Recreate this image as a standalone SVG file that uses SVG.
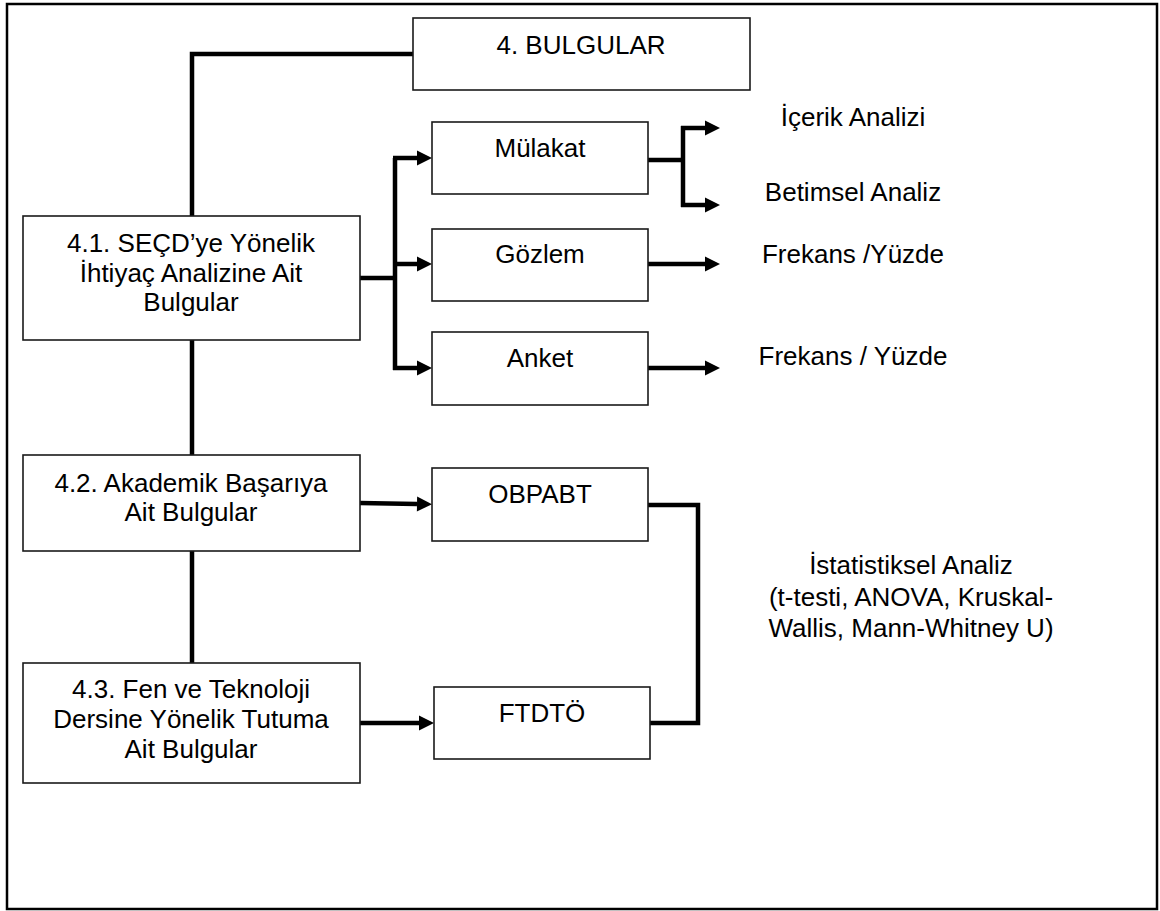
<svg xmlns="http://www.w3.org/2000/svg" width="1160" height="911" viewBox="0 0 1160 911">
<style>
.frame{fill:#fff;stroke:#000;stroke-width:2.5}
.box{fill:#fff;stroke:#1a1a1a;stroke-width:1.6}
.t{font-family:"Liberation Sans",Arial,sans-serif;font-size:26px;fill:#000;text-anchor:middle}
.c{fill:none;stroke:#000;stroke-width:4.5;stroke-linejoin:miter}
.a{marker-end:url(#arr)}
</style>
<defs>
<marker id="arr" markerUnits="userSpaceOnUse" markerWidth="16" markerHeight="16" refX="0" refY="7.5" orient="auto" overflow="visible">
<path d="M0,0 L15,7.5 L0,15 Z" fill="#000"/>
</marker>
</defs>
<rect class="frame" x="7" y="4" width="1150" height="905"/>
<g id="connectors">
<polyline class="c" points="192,216 192,54 413,54"/>
<line class="c" x1="192" y1="340" x2="192" y2="455"/>
<line class="c" x1="192" y1="551" x2="192" y2="663"/>
<line class="c" x1="360" y1="278" x2="395" y2="278"/>
<line class="c" x1="395" y1="158" x2="395" y2="370"/>
<line class="c a" x1="393" y1="158" x2="417" y2="158"/>
<line class="c a" x1="393" y1="264" x2="417" y2="264"/>
<line class="c a" x1="393" y1="368" x2="417" y2="368"/>
<line class="c" x1="648" y1="160" x2="683" y2="160"/>
<line class="c" x1="683" y1="126" x2="683" y2="207"/>
<line class="c a" x1="681" y1="128" x2="705" y2="128"/>
<line class="c a" x1="681" y1="205" x2="705" y2="205"/>
<line class="c a" x1="648" y1="264" x2="705" y2="264"/>
<line class="c a" x1="648" y1="368" x2="705" y2="368"/>
<line class="c a" x1="360" y1="503" x2="417" y2="504"/>
<line class="c a" x1="360" y1="723" x2="419" y2="723"/>
<polyline class="c" points="648,505 698,505 698,723 650,723"/>
</g>
<g id="n-bulgular"><rect class="box" x="413" y="18" width="337" height="72"/><text class="t" x="581" y="54">4. BULGULAR</text></g>
<g id="n-41"><rect class="box" x="23" y="216" width="337" height="124"/>
<text class="t" x="191" y="252">4.1. SEÇD’ye Yönelik</text>
<text class="t" x="191" y="282">İhtiyaç Analizine Ait</text>
<text class="t" x="191" y="311">Bulgular</text></g>
<g id="n-42"><rect class="box" x="23" y="455" width="337" height="96"/>
<text class="t" x="191" y="492">4.2. Akademik Başarıya</text>
<text class="t" x="191" y="521">Ait Bulgular</text></g>
<g id="n-43"><rect class="box" x="23" y="663" width="337" height="120"/>
<text class="t" x="191" y="698">4.3. Fen ve Teknoloji</text>
<text class="t" x="191" y="728">Dersine Yönelik Tutuma</text>
<text class="t" x="191" y="758">Ait Bulgular</text></g>
<g id="n-mulakat"><rect class="box" x="432" y="122" width="216" height="72"/><text class="t" x="540" y="157">Mülakat</text></g>
<g id="n-gozlem"><rect class="box" x="432" y="229" width="216" height="72"/><text class="t" x="540" y="263">Gözlem</text></g>
<g id="n-anket"><rect class="box" x="432" y="332" width="216" height="73"/><text class="t" x="540" y="367">Anket</text></g>
<g id="n-obpabt"><rect class="box" x="432" y="468" width="216" height="73"/><text class="t" x="540" y="503">OBPABT</text></g>
<g id="n-ftdto"><rect class="box" x="434" y="687" width="216" height="72"/><text class="t" x="542" y="722">FTDTÖ</text></g>
<g id="n-icerik"><text class="t" x="853" y="126">İçerik Analizi</text></g>
<g id="n-betimsel"><text class="t" x="853" y="201">Betimsel Analiz</text></g>
<g id="n-frekans1"><text class="t" x="853" y="263">Frekans /Yüzde</text></g>
<g id="n-frekans2"><text class="t" x="853" y="365">Frekans / Yüzde</text></g>
<g id="n-istat">
<text class="t" x="911" y="574">İstatistiksel Analiz</text>
<text class="t" x="911" y="606">(t-testi, ANOVA, Kruskal-</text>
<text class="t" x="911" y="637">Wallis, Mann-Whitney U)</text></g>
</svg>
